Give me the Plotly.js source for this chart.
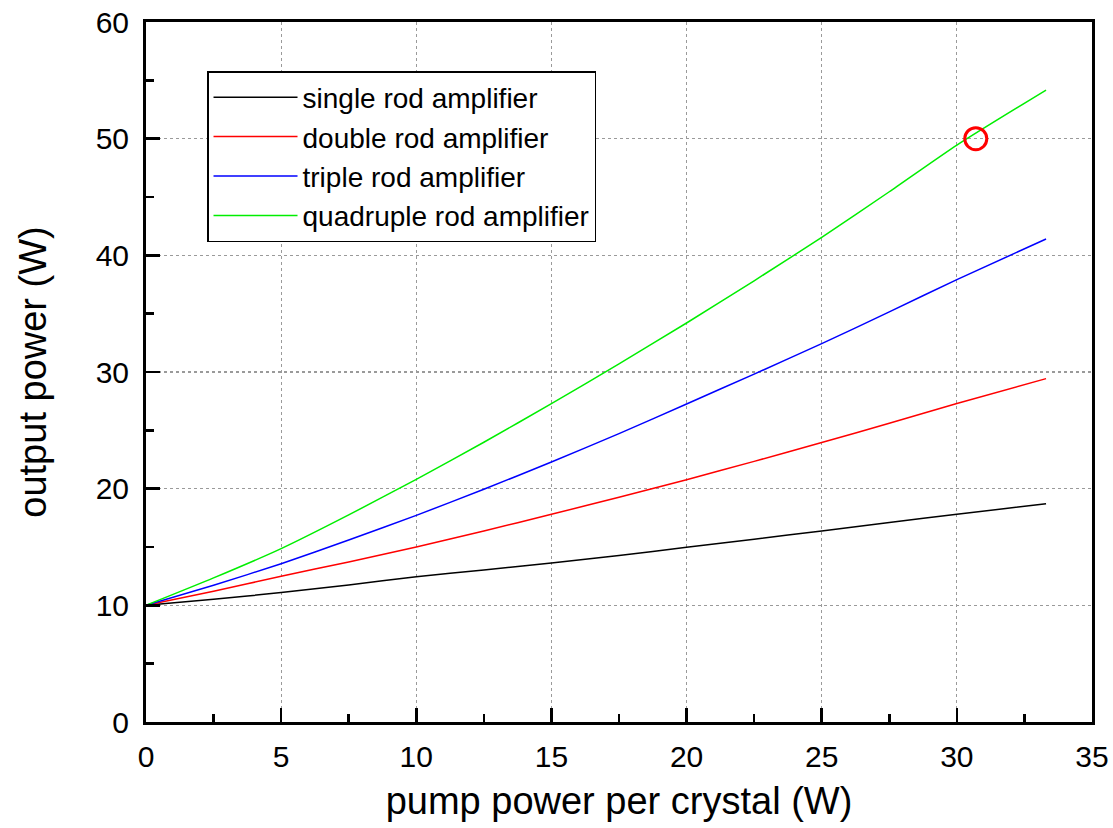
<!DOCTYPE html>
<html>
<head>
<meta charset="utf-8">
<script src="https://cdn.plot.ly/plotly-3.0.1.min.js"></script>
<style>html,body{margin:0;padding:0;background:#fff;}#chart{width:1113px;height:828px;}</style>
</head>
<body>
<div id="chart"></div>
<script>
// pump power per crystal (W)
const pumpPower = [0, 2.5, 5, 7.5, 10, 12.5, 15, 17.5, 20, 22.5, 25, 27.5, 30, 33.3];
// output power (W)
const singleRod    = [10, 10.52, 11.09, 11.75, 12.45, 13.03, 13.62, 14.28, 14.97, 15.66, 16.38, 17.1, 17.8, 18.71];
const doubleRod    = [10, 11.2, 12.49, 13.72, 15.0, 16.38, 17.8, 19.27, 20.77, 22.34, 23.96, 25.6, 27.3, 29.43];
const tripleRod    = [10, 11.72, 13.57, 15.6, 17.71, 19.95, 22.28, 24.72, 27.26, 29.82, 32.43, 35.15, 37.92, 41.4];
const quadrupleRod = [10, 12.35, 14.86, 17.75, 20.8, 23.98, 27.29, 30.7, 34.2, 37.82, 41.54, 45.45, 49.45, 54.17];
const seriesNames  = ["single rod amplifier", "double rod amplifier", "triple rod amplifier", "quadruple rod amplifier"];
const seriesColors = ["#000000", "#ff0000", "#0000ff", "#00ee00"];
// highlighted operating point
const markX = [30.7];
const markY = [50];

const seriesData = [singleRod, doubleRod, tripleRod, quadrupleRod];
const traces = seriesData.map((ys, i) => ({
  x: pumpPower, y: ys, type: "scatter", mode: "lines",
  name: seriesNames[i],
  line: {color: seriesColors[i], width: 1.5, shape: "spline", smoothing: 0.6}
}));
traces.push({
  x: markX, y: markY, type: "scatter", mode: "markers", showlegend: false,
  marker: {symbol: "circle-open", size: 22, color: "#ff0000", line: {color: "#ff0000", width: 3}}
});

const font = "Arial, 'Liberation Sans', sans-serif";
const layout = {
  width: 1113, height: 828,
  margin: {l: 146, r: 21, t: 22, b: 106},
  paper_bgcolor: "#fff", plot_bgcolor: "#fff",
  font: {family: font, color: "#000", size: 30},
  showlegend: true,
  legend: {
    x: 0.0645, y: 0.93, xanchor: "left", yanchor: "top",
    bordercolor: "#000", borderwidth: 1.5, bgcolor: "#fff",
    font: {family: font, size: 28, color: "#000"},
    itemwidth: 84, tracegroupgap: 0
  },
  xaxis: {
    range: [0, 35], dtick: 5, tick0: 0,
    showline: true, linecolor: "#000", linewidth: 3, mirror: true,
    ticks: "inside", ticklen: 14, tickwidth: 2.5, tickcolor: "#000",
    minor: {dtick: 2.5, ticks: "inside", ticklen: 8, tickwidth: 2.5, tickcolor: "#000", showgrid: false},
    showgrid: true, gridcolor: "#9a9a9a", griddash: "dot", gridwidth: 1.2,
    zeroline: false,
    tickfont: {family: font, size: 30},
    ticklabelstandoff: 6,
    title: {text: "pump power per crystal (W)", font: {family: font, size: 38}, standoff: 16}
  },
  yaxis: {
    range: [0, 60], dtick: 10, tick0: 0,
    showline: true, linecolor: "#000", linewidth: 3, mirror: true,
    ticks: "inside", ticklen: 14, tickwidth: 2.5, tickcolor: "#000",
    minor: {dtick: 5, ticks: "inside", ticklen: 8, tickwidth: 2.5, tickcolor: "#000", showgrid: false},
    showgrid: true, gridcolor: "#9a9a9a", griddash: "dot", gridwidth: 1.2,
    zeroline: false,
    tickfont: {family: font, size: 30},
    ticklabelstandoff: 8,
    title: {text: "output power (W)", font: {family: font, size: 38}, standoff: 38}
  }
};

Plotly.newPlot("chart", traces, layout, {displayModeBar: false, staticPlot: true});
</script>
</body>
</html>
